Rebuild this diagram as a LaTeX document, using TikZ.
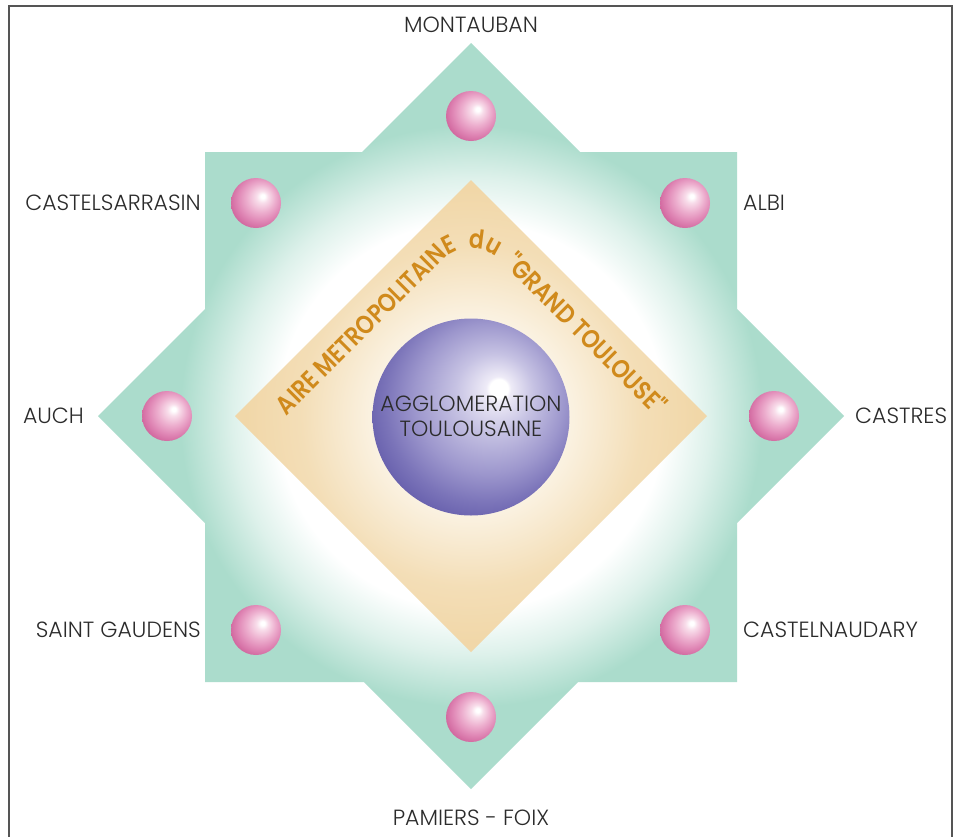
\documentclass[tikz,border=0pt]{standalone}
\usepackage{fontspec}
\newfontfamily\lightfont{Poppins Light}
\newfontfamily\semifont{Poppins SemiBold}[FakeStretch=0.85]
\usetikzlibrary{decorations.text}

\definecolor{mint}{HTML}{ABDCCC}
\definecolor{tanc}{HTML}{F1D7A8}
\definecolor{cream}{HTML}{FBF3E4}
\definecolor{ochre}{HTML}{D08A1C}
\definecolor{labelgray}{HTML}{2B2B2B}
\definecolor{framegray}{HTML}{555555}
\definecolor{pA}{HTML}{EEEBF7}
\definecolor{pB}{HTML}{C6C2E3}
\definecolor{pC}{HTML}{9D97CD}
\definecolor{pD}{HTML}{7B74B9}
\definecolor{pE}{HTML}{4C449C}
\definecolor{kA}{HTML}{F8DDEA}
\definecolor{kB}{HTML}{EDB0CF}
\definecolor{kC}{HTML}{E088B6}
\definecolor{kD}{HTML}{CB5A95}

\pgfdeclareradialshading{stargrad}{\pgfpoint{0bp}{0bp}}{color(0bp)=(white); color(13bp)=(white); color(16bp)=(mint!40!white); color(19.5bp)=(mint); color(50bp)=(mint)}
\pgfdeclareradialshading{diagrad}{\pgfpoint{0bp}{0bp}}{color(0bp)=(cream); color(10bp)=(cream); color(18bp)=(tanc!75!cream); color(24bp)=(tanc); color(50bp)=(tanc)}
\pgfdeclareradialshading{purplegrad}{\pgfpoint{7.4bp}{7.6bp}}{color(0bp)=(white); color(2.3bp)=(white); color(3.2bp)=(pA); color(10bp)=(pB); color(19bp)=(pC); color(25.5bp)=(pD); color(36bp)=(pE); color(50bp)=(pE)}
\pgfdeclareradialshading{pinkgrad}{\pgfpoint{7bp}{7bp}}{color(0bp)=(white); color(2bp)=(white); color(6bp)=(kA); color(14bp)=(kB); color(22bp)=(kC); color(32bp)=(kD); color(50bp)=(kD)}

\tikzset{
  pinkball/.style={circle, minimum size=50pt, inner sep=0pt, shade, shading=pinkgrad},
  bigball/.style={circle, minimum size=197pt, inner sep=0pt, shade, shading=purplegrad},
  lbl/.style={inner sep=0pt, text=labelgray, font=\lightfont\fontsize{22}{25}\selectfont},
  centertext/.style={inner sep=0pt, align=center, text=labelgray, font=\lightfont\fontsize{22}{25}\selectfont},
}

\begin{document}
\begin{tikzpicture}[x=1pt, y=-1pt]
\useasboundingbox (0,0) rectangle (959,836);
\clip (0,0) rectangle (959,836);
\fill[white] (0,0) rectangle (959,836);
\draw[framegray, line width=1.2pt] (9,6) rectangle (952,850);

% eight-pointed star
\path[shade, shading=stargrad]
  (471,43) -- (580,152) -- (737,152) -- (737,309) -- (844,416) -- (737,523) --
  (737,682) -- (578,682) -- (471,789) -- (364,682) -- (205,682) -- (205,523) --
  (98,416) -- (205,309) -- (205,152) -- (362,152) -- cycle;

% inner diamond
\path[shade, shading=diagrad] (471,180) -- (707,416) -- (471,652) -- (235,416) -- cycle;

% pink spheres
\node[pinkball] (bmontauban) at (471,116) {};
\node[pinkball] (bcastel) at (256,203) {};
\node[pinkball] (balbi) at (685,203) {};
\node[pinkball] (bauch) at (167,416) {};
\node[pinkball] (bcastres) at (774,416) {};
\node[pinkball] (bsaint) at (256,630) {};
\node[pinkball] (bnaudary) at (685,630) {};
\node[pinkball] (bpamiers) at (471,717) {};

% text along the diamond
\path[decorate, decoration={text along path, text align=center, text color=ochre,
  text={|\semifont\fontsize{26}{30}\selectfont|AIRE METROPOLITAINE{\ \ }du{\ \ }"GRAND TOULOUSE"}}]
  [rounded corners=40pt] (250,453) -- (471,232) -- (692,453);

% central sphere
\node[bigball] (agglo) at (471,417) {};
\node[centertext] (aggloText) at (471,416.5) {AGGLOMERATION\\TOULOUSAINE};

% labels
\node[lbl] (montauban) at (471,25) {MONTAUBAN};
\node[lbl, anchor=east] (castelsarrasin) at (201,203) {CASTELSARRASIN};
\node[lbl, anchor=west] (albi) at (743,203) {ALBI};
\node[lbl, anchor=east] (auch) at (84,416) {AUCH};
\node[lbl, anchor=west] (castres) at (855,416) {CASTRES};
\node[lbl, anchor=east] (saintgaudens) at (201,630) {SAINT GAUDENS};
\node[lbl, anchor=west] (castelnaudary) at (743,630) {CASTELNAUDARY};
\node[lbl] (pamiers) at (471,818) {PAMIERS - FOIX};
\end{tikzpicture}
\end{document}
